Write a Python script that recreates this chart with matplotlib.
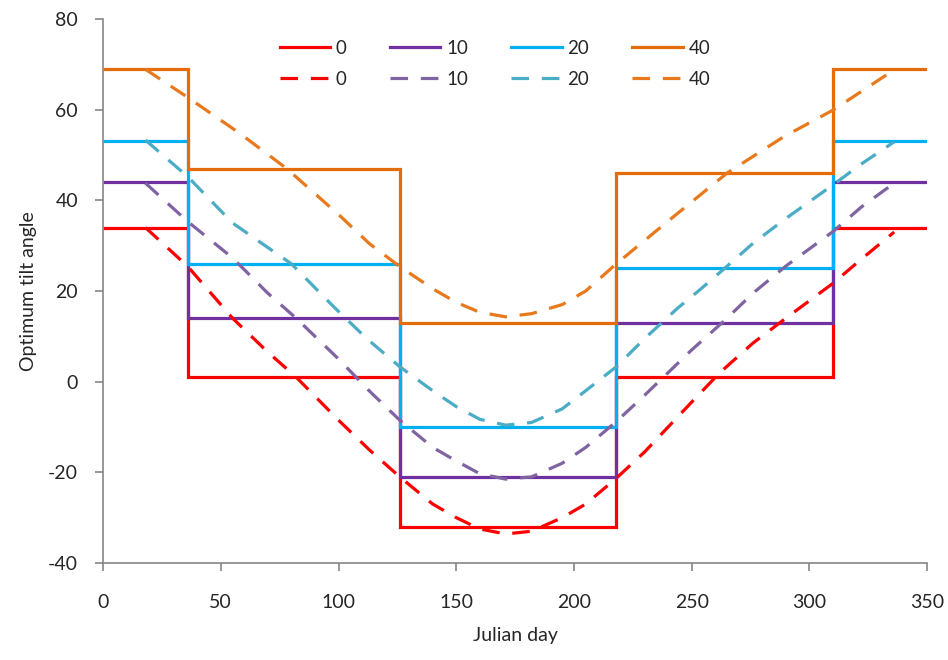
import matplotlib
matplotlib.use("Agg")
import matplotlib.pyplot as plt

# step (solid) series: seasonal tilt, edges in Julian day
step_edges = [0, 36, 126, 218, 310, 350]
step_0 = [34, 1, -32, 1, 34]
step_10 = [44, 14, -21, 13, 44]
step_20 = [53, 26, -10, 25, 53]
step_40 = [69, 47, 13, 46, 69]

# daily optimum (dashed) series
days_0 = [18, 36, 55, 70, 82, 100, 113, 126, 140, 150, 160, 171, 182, 195, 205,
          218, 230, 240, 250, 262, 276, 290, 310, 322, 336]
daily_0 = [34, 25.4, 14, 6.5, 1, -8.5, -15, -21, -27, -30, -32.5, -33.6, -33, -30, -27,
           -21.3, -15.5, -10, -4.5, 2, 8.5, 14, 21.7, 27, 33]

days_10 = [18, 36, 55, 70, 82, 100, 113, 126, 140, 150, 160, 171, 182, 195, 205,
           218, 230, 240, 250, 264, 276, 290, 310, 322, 336]
daily_10 = [43.8, 35.3, 27.3, 19.5, 14, 5, -2, -8.5, -14.5, -17.5, -20.3, -21.5, -21, -18, -14.5,
            -8.8, -3, 2, 7, 13.5, 19.5, 25.5, 33.1, 38.5, 43.8]

days_20 = [18, 36, 55, 68, 80, 98, 112, 126, 140, 150, 160, 171, 182, 195, 205,
           218, 230, 244, 254, 264, 276, 290, 310, 322, 336]
daily_20 = [53.3, 45.2, 35, 30.3, 26, 16.5, 9.5, 3.3, -2, -5.5, -8.3, -9.6, -9, -6, -2,
            3.3, 9.5, 16.2, 20.5, 25, 30.5, 36, 43.4, 48, 52.9]

days_40 = [18, 36, 58, 78, 101, 113, 126, 140, 150, 160, 171, 182, 195, 205,
           218, 239, 252, 265, 289, 310, 322, 336]
daily_40 = [68.9, 62.7, 54.8, 47, 36.4, 30.5, 25.4, 20.5, 17.5, 15.3, 14.3, 15, 17, 20,
            26, 35, 40.5, 46, 54, 59.9, 64, 68.8]

labels = ["0", "10", "20", "40"]
solid_colors = ["#FF0000", "#7030A0", "#00B0F0", "#E46C0A"]
dash_colors = ["#FF0000", "#8064A2", "#4BACC6", "#E8791C"]

plt.rcParams["font.family"] = ["Lato", "DejaVu Sans"]
plt.rcParams["axes.unicode_minus"] = False
text_color = "#262626"

fig = plt.figure(figsize=(9.48, 6.6), dpi=100)
ax = fig.add_axes([0.1087, 0.147, 0.8693, 0.8242])

solid_h = []
steps = [step_0, step_10, step_20, step_40]
for vals, col, lab in zip(steps, solid_colors, labels):
    h = ax.stairs(vals, step_edges, color=col, lw=2.3, label=lab, baseline=None)
    solid_h.append(h)

dash_h = []
dashed = [(days_0, daily_0), (days_10, daily_10), (days_20, daily_20), (days_40, daily_40)]
for (d, v), col, lab in zip(dashed, dash_colors, labels):
    h, = ax.plot(d, v, color=col, lw=2.3, ls=(0, (5.5, 4)), label=lab)
    dash_h.append(h)

ax.set_xlim(0, 350)
ax.set_ylim(-40, 80)
ax.set_xticks(range(0, 351, 50))
ax.set_yticks(range(-40, 81, 20))

for s in ["top", "right"]:
    ax.spines[s].set_visible(False)
for s in ["left", "bottom"]:
    ax.spines[s].set_color("#868686")
    ax.spines[s].set_linewidth(1.2)
ax.tick_params(axis="both", colors="#868686", labelcolor=text_color,
               labelsize=14, length=6, width=1.2, direction="out")
ax.tick_params(axis="y", pad=12)
ax.tick_params(axis="x", pad=16)

ax.set_xlabel("Julian day", fontsize=14, color=text_color, labelpad=12)
ax.set_ylabel("Optimum tilt angle", fontsize=14, color=text_color, labelpad=8)

# legend fills column by column, so interleave to get solid row on top
handles, leg_labels = [], []
for i in range(4):
    handles += [solid_h[i], dash_h[i]]
    leg_labels += [labels[i], labels[i]]
ax.legend(handles, leg_labels, loc="upper center", bbox_to_anchor=(0.522, 0.965),
          bbox_transform=fig.transFigure, ncol=4, frameon=False, fontsize=13.5,
          handlelength=2.7, handletextpad=0.3, columnspacing=2.3, labelspacing=0.75,
          labelcolor=text_color)

fig.savefig("out.png", dpi=100)
